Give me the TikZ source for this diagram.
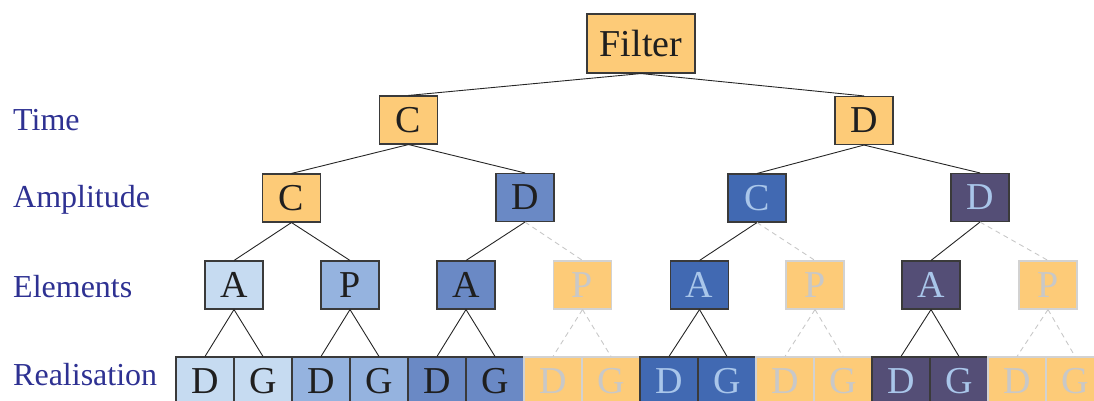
\documentclass[tikz,border=0pt]{standalone}
\usepackage{fontspec}
\setmainfont{Liberation Serif}
\definecolor{orng}{HTML}{FDCB78}
\definecolor{bA}{HTML}{C6DBF1}
\definecolor{bB}{HTML}{95B3DF}
\definecolor{bC}{HTML}{6A89C5}
\definecolor{bD}{HTML}{4169B2}
\definecolor{bE}{HTML}{544E76}
\definecolor{ltxt}{HTML}{A9C6EA}
\definecolor{fgray}{HTML}{C8C8C8}
\definecolor{fborder}{HTML}{D2D2D2}
\definecolor{bord}{HTML}{3A3A3A}
\definecolor{lbl}{HTML}{2E3192}
\tikzset{
  box/.style={draw=bord, line width=1.1pt, minimum width=58pt, minimum height=48pt, inner sep=0pt,
    font=\fontsize{38}{38}\selectfont, text=black!88},
  faded/.style={box, draw=fborder, fill=orng, text=fgray},
  lab/.style={anchor=base west, text=lbl, font=\fontsize{32}{32}\selectfont, inner sep=0pt},
  edge/.style={draw=black!85, line width=0.9pt},
  fedge/.style={draw=fgray, line width=0.9pt, dash pattern=on 5pt off 4pt},
}
\begin{document}
\begin{tikzpicture}[x=1pt,y=-1pt]
\useasboundingbox (0,0) rectangle (1094,401);
% labels
\node[lab] (lt) at (13,130) {Time};
\node[lab] (la) at (13,207) {Amplitude};
\node[lab] (le) at (13,297) {Elements};
\node[lab] (lr) at (13,385) {Realisation};
% root
\node[box, fill=orng, minimum width=108pt, minimum height=59pt] (f) at (641,43.5) {Filter};
% time
\node[box, fill=orng] (tc) at (408.5,120) {C};
\node[box, fill=orng] (td) at (864,120.5) {D};
% amplitude
\node[box, fill=orng] (ac) at (291.5,198) {C};
\node[box, fill=bC] (ad) at (525,197.5) {D};
\node[box, fill=bD, text=ltxt] (ac2) at (757,198) {C};
\node[box, fill=bE, text=ltxt] (ad2) at (980,197.5) {D};
% elements
\node[box, fill=bA] (e1) at (234,285) {A};
\node[box, fill=bB] (e2) at (350,285) {P};
\node[box, fill=bC] (e3) at (466,285) {A};
\node[faded] (e4) at (582.5,285) {P};
\node[box, fill=bD, text=ltxt] (e5) at (699.5,285) {A};
\node[faded] (e6) at (815,285) {P};
\node[box, fill=bE, text=ltxt] (e7) at (931,285) {A};
\node[faded] (e8) at (1048,285) {P};
% realisation
\node[box, fill=bA] (r1) at (205,381) {D};
\node[box, fill=bA] (r2) at (263,381) {G};
\node[box, fill=bB] (r3) at (321,381) {D};
\node[box, fill=bB] (r4) at (379,381) {G};
\node[box, fill=bC] (r5) at (437,381) {D};
\node[box, fill=bC] (r6) at (495,381) {G};
\node[faded] (r7) at (553,381) {D};
\node[faded] (r8) at (611,381) {G};
\node[box, fill=bD, text=ltxt] (r9) at (669,381) {D};
\node[box, fill=bD, text=ltxt] (r10) at (727,381) {G};
\node[faded] (r11) at (785,381) {D};
\node[faded] (r12) at (843,381) {G};
\node[box, fill=bE, text=ltxt] (r13) at (901,381) {D};
\node[box, fill=bE, text=ltxt] (r14) at (959,381) {G};
\node[faded] (r15) at (1017,381) {D};
\node[faded] (r16) at (1075,381) {G};
% solid edges
\foreach \p/\c in {f/tc, f/td, tc/ac, tc/ad, td/ac2, td/ad2,
  ac/e1, ac/e2, ad/e3, ac2/e5, ad2/e7,
  e1/r1, e1/r2, e2/r3, e2/r4, e3/r5, e3/r6, e5/r9, e5/r10, e7/r13, e7/r14}
  \draw[edge] (\p.south) -- (\c.north);
% dashed edges
\foreach \p/\c in {ad/e4, ac2/e6, ad2/e8, e4/r7, e4/r8, e6/r11, e6/r12, e8/r15, e8/r16}
  \draw[fedge] (\p.south) -- (\c.north);
\end{tikzpicture}
\end{document}
